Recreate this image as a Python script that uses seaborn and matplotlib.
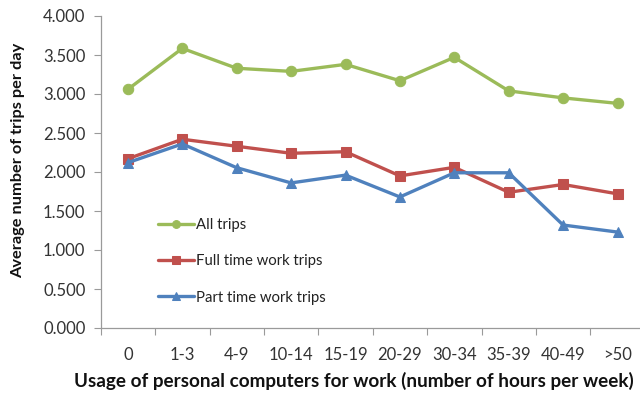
import matplotlib
matplotlib.use("Agg")
import matplotlib.pyplot as plt
import seaborn as sns
import pandas as pd
from matplotlib.ticker import FixedLocator, NullFormatter

categories = ["0", "1-3", "4-9", "10-14", "15-19", "20-29", "30-34", "35-39", "40-49", ">50"]
all_trips = [3.06, 3.585, 3.33, 3.29, 3.38, 3.17, 3.47, 3.04, 2.95, 2.88]
full_time = [2.17, 2.42, 2.33, 2.24, 2.26, 1.95, 2.06, 1.74, 1.84, 1.72]
part_time = [2.12, 2.36, 2.055, 1.86, 1.96, 1.68, 1.99, 1.99, 1.32, 1.23]
series_names = ["All trips", "Full time work trips", "Part time work trips"]

sns.set_theme(style="white")
plt.rcParams['font.family'] = ['Lato', 'DejaVu Sans']

fig = plt.figure(figsize=(6.4, 4.01), dpi=100)
ax = fig.add_axes([100.7 / 640, (401 - 328) / 401, 544 / 640, 312 / 401])

colors = ["#9BBB59", "#C0504D", "#4F81BD"]
markers = ["o", "s", "^"]
for name, vals, c, m in zip(series_names, [all_trips, full_time, part_time], colors, markers):
    df = pd.DataFrame({"cat": categories, "val": vals})
    sns.lineplot(data=df, x="cat", y="val", ax=ax, color=c, marker=m, markersize=7.5,
                 markeredgecolor=c, linewidth=2.4, label=name, sort=False)

ax.set_xlim(-0.5, len(categories) - 0.5)
ax.set_ylim(0, 4)
ax.set_yticks([0, 0.5, 1.0, 1.5, 2.0, 2.5, 3.0, 3.5, 4.0])
ax.set_yticklabels([f"{v:.3f}" for v in [0, 0.5, 1.0, 1.5, 2.0, 2.5, 3.0, 3.5, 4.0]])
ax.xaxis.set_minor_locator(FixedLocator([i - 0.5 for i in range(len(categories) + 1)]))
ax.xaxis.set_minor_formatter(NullFormatter())
ax.tick_params(axis="x", which="major", length=0, pad=14, labelsize=12, colors="#333333")
ax.tick_params(axis="x", which="minor", length=5, width=0.8, color="#9a9a9a", bottom=True)
ax.tick_params(axis="y", which="major", length=5, width=0.8, color="#9a9a9a", left=True,
               labelsize=12, labelcolor="#333333", pad=6)

for s in ["top", "right"]:
    ax.spines[s].set_visible(False)
for s in ["left", "bottom"]:
    ax.spines[s].set_color("#9a9a9a")
    ax.spines[s].set_linewidth(0.9)

ax.set_xlabel("Usage of personal computers for work (number of hours per week)",
              fontsize=13.6, fontweight="bold", color="#111111")
ax.set_ylabel("Average number of trips per day", fontsize=11.8, fontweight="bold",
              color="#111111")
ax.xaxis.set_label_coords((354 - 100.7) / 544, -(381 - 328) / 312)
ax.yaxis.set_label_coords(-(100.7 - 18.5) / 544, (328 - 160) / 312)
ax.xaxis.label.set_va("center")
ax.yaxis.label.set_va("center")

leg = ax.legend(loc="upper left", bbox_to_anchor=(152 / 640, 1 - 212 / 401),
                bbox_transform=fig.transFigure, frameon=False, fontsize=10.7,
                handlelength=2.4, handletextpad=0.15, labelspacing=1.5, borderaxespad=0,
                markerscale=0.75)
for t in leg.get_texts():
    t.set_color("#222222")

fig.savefig("out.png", dpi=100)
